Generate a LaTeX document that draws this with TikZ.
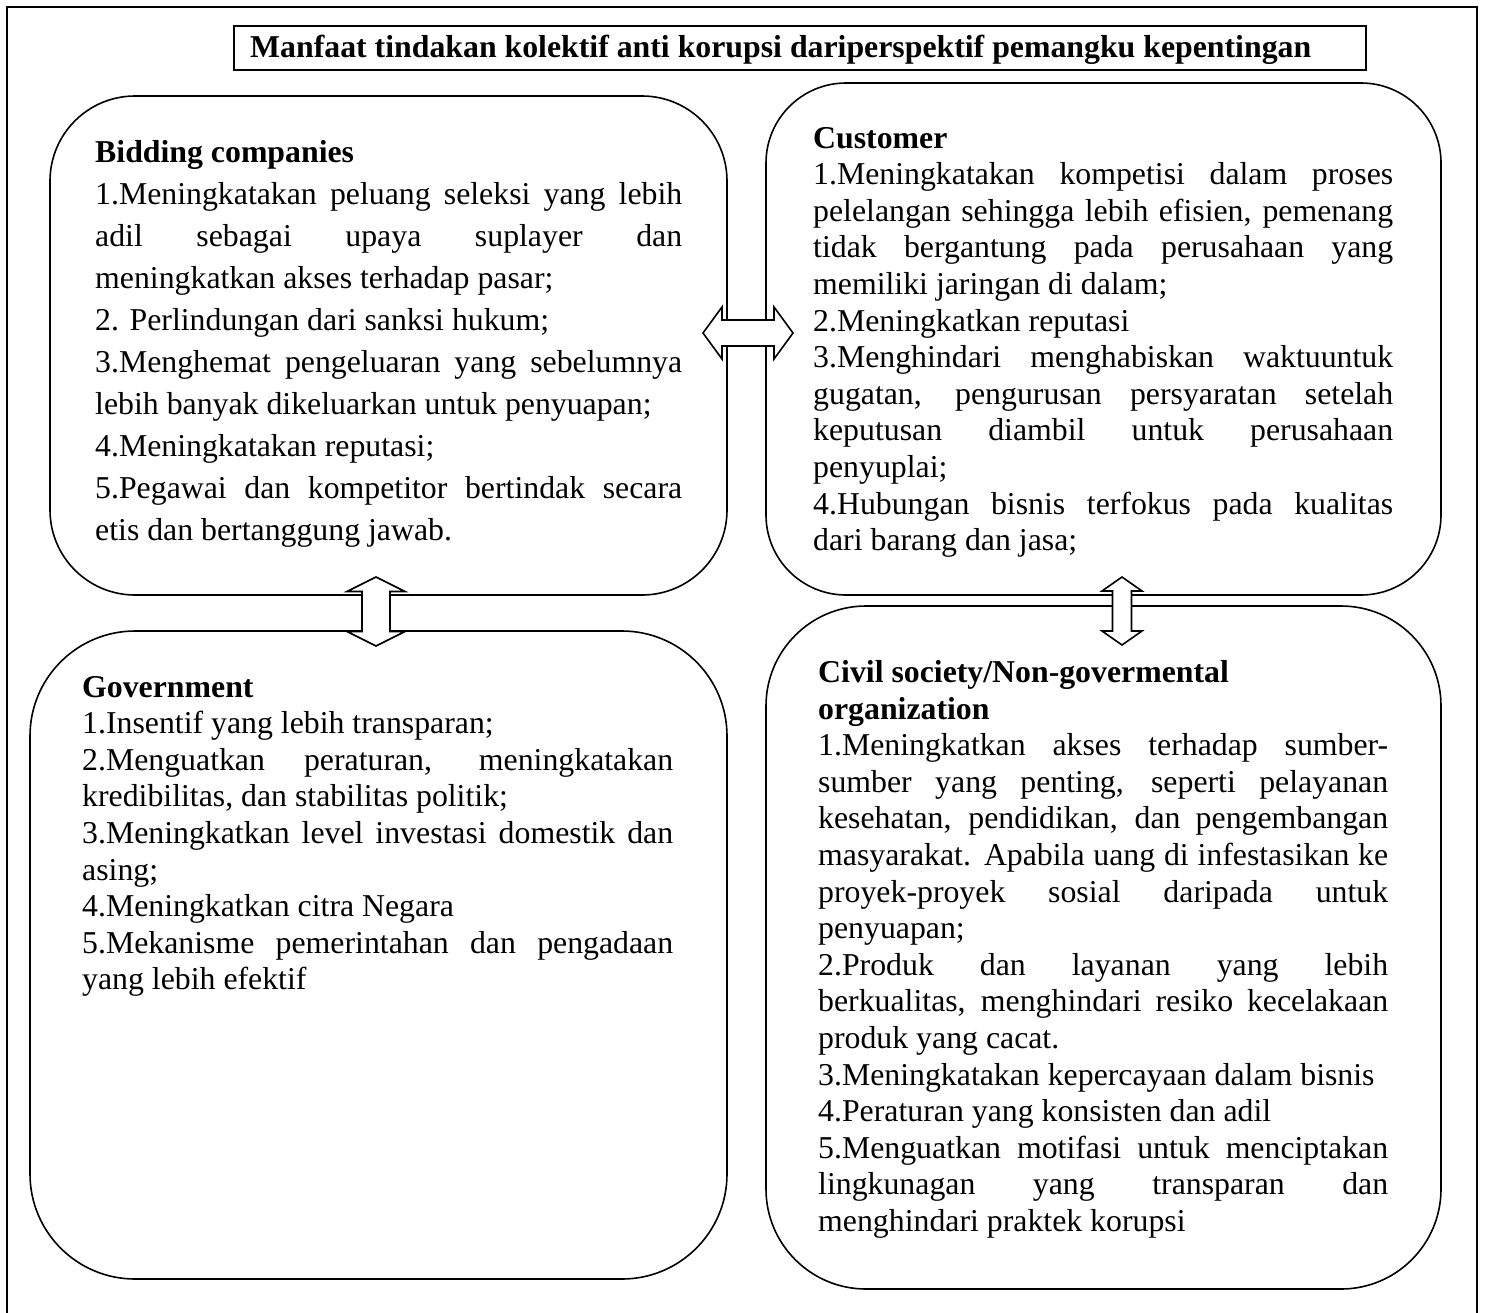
\documentclass[tikz,border=0pt]{standalone}
\usepackage{fontspec}
\setmainfont{Liberation Serif}

% one justified line spread over the full width, and one plain line
\newcommand\jl[1]{\makebox[\linewidth][s]{#1}\par}
\newcommand\pl[1]{#1\par}

% block double arrow along x: half length, head base, shaft half width, head half width
\newcommand\dblarrow[4]{%
  \draw[blockarrow] (-#1,0) -- (-#2,#4) -- (-#2,#3) -- (#2,#3) -- (#2,#4) -- (#1,0)
    -- (#2,-#4) -- (#2,-#3) -- (-#2,-#3) -- (-#2,-#4) -- cycle;}

\tikzset{
  panel/.style={draw, line width=1.6pt, rounded corners=#1, inner sep=0pt},
  frameline/.style={line width=1.6pt},
  blockarrow/.style={draw, fill=white, line width=1.6pt, line join=miter},
  txt/.style={anchor=base west, inner sep=0pt},
}

\begin{document}
\begin{tikzpicture}[x=1pt, y=-1pt]
\useasboundingbox (0,0) rectangle (1486,1312);

% outer frame (open at the bottom of the page)
\draw[frameline] (7,1330) -- (7,7) -- (1477,7) -- (1477,1330);

% title
\node[draw, line width=2pt, minimum width=1132pt, minimum height=44pt, inner sep=0pt]
  (titlebox) at (800,48) {};
\node[txt] (title) at (250,57)
  {\fontsize{31.8}{36}\selectfont\bfseries Manfaat tindakan kolektif anti korupsi dariperspektif pemangku kepentingan};

% four stakeholder panels
\node[panel=85,  minimum width=677pt, minimum height=499pt] (bid)  at (388.5,345.5) {};
\node[panel=80,  minimum width=675pt, minimum height=512pt] (cust) at (1103.5,339) {};
\node[panel=105, minimum width=697pt, minimum height=648pt] (gov)  at (378.5,955) {};
\node[panel=100, minimum width=675pt, minimum height=683pt] (ngo)  at (1103.5,947.5) {};

% panel texts
\node[txt] (bidtxt) at (95,162) {\parbox[t]{587pt}{\fontsize{31.8}{42}\selectfont
  \pl{\textbf{Bidding companies}}
  \jl{1.Meningkatakan peluang seleksi yang lebih}
  \jl{adil sebagai upaya suplayer dan}
  \pl{meningkatkan akses terhadap pasar;}
  \pl{2. Perlindungan dari sanksi hukum;}
  \jl{3.Menghemat pengeluaran yang sebelumnya}
  \pl{lebih banyak dikeluarkan untuk penyuapan;}
  \pl{4.Meningkatakan reputasi;}
  \jl{5.Pegawai dan kompetitor bertindak secara}
  \pl{etis dan bertanggung jawab.}}};

\node[txt] (custtxt) at (813,148) {\parbox[t]{580pt}{\fontsize{31.8}{36.6}\selectfont
  \pl{\textbf{Customer}}
  \jl{1.Meningkatakan kompetisi dalam proses}
  \jl{pelelangan sehingga lebih efisien, pemenang}
  \jl{tidak bergantung pada perusahaan yang}
  \pl{memiliki jaringan di dalam;}
  \pl{2.Meningkatkan reputasi}
  \jl{3.Menghindari menghabiskan waktuuntuk}
  \jl{gugatan, pengurusan persyaratan setelah}
  \jl{keputusan diambil untuk perusahaan}
  \pl{penyuplai;}
  \jl{4.Hubungan bisnis terfokus pada kualitas}
  \pl{dari barang dan jasa;}}};

\node[txt] (govtxt) at (82,697) {\parbox[t]{591pt}{\fontsize{31.8}{36.6}\selectfont
  \pl{\textbf{Government}}
  \pl{1.Insentif yang lebih transparan;}
  \jl{2.Menguatkan peraturan, meningkatakan}
  \pl{kredibilitas, dan stabilitas politik;}
  \jl{3.Meningkatkan level investasi domestik dan}
  \pl{asing;}
  \pl{4.Meningkatkan citra Negara}
  \jl{5.Mekanisme pemerintahan dan pengadaan}
  \pl{yang lebih efektif}}};

\node[txt] (ngotxt) at (818,682.5) {\parbox[t]{570pt}{\fontsize{31.8}{36.6}\selectfont
  \pl{\textbf{Civil society/Non-govermental}}
  \pl{\textbf{organization}}
  \jl{1.Meningkatkan akses terhadap sumber-}
  \jl{sumber yang penting, seperti pelayanan}
  \jl{kesehatan, pendidikan, dan pengembangan}
  \jl{masyarakat. Apabila uang di infestasikan ke}
  \jl{proyek-proyek sosial daripada untuk}
  \pl{penyuapan;}
  \jl{2.Produk dan layanan yang lebih}
  \jl{berkualitas, menghindari resiko kecelakaan}
  \pl{produk yang cacat.}
  \pl{3.Meningkatakan kepercayaan dalam bisnis}
  \pl{4.Peraturan yang konsisten dan adil}
  \jl{5.Menguatkan motifasi untuk menciptakan}
  \jl{lingkunagan yang transparan dan}
  \pl{menghindari praktek korupsi}}};

% double block arrows between the panels
\begin{scope}[shift={(748,333)}]
  \dblarrow{45}{26}{13}{26}
\end{scope}
\begin{scope}[shift={(376,611.5)}, rotate=90]
  \dblarrow{34.5}{20}{14}{29}
\end{scope}
\begin{scope}[shift={(1122,611)}, rotate=90]
  \dblarrow{34}{20}{9.5}{20}
\end{scope}
\end{tikzpicture}
\end{document}
